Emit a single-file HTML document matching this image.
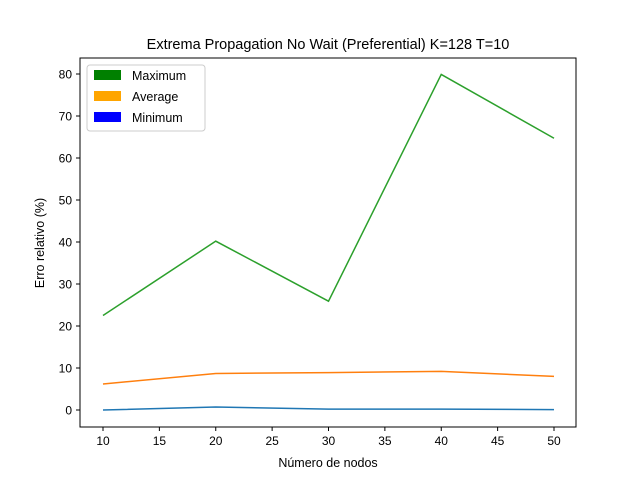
<!DOCTYPE html>
<html><head><meta charset="utf-8"><style>
body{margin:0;background:#fff;}
svg{display:block;font-family:"Liberation Sans","DejaVu Sans",sans-serif;}
</style></head><body>
<svg id="chart" width="640" height="480">
<rect width="640" height="480" fill="#fff"/>
<text x="328" y="49" font-size="14.5" text-anchor="middle">Extrema Propagation No Wait (Preferential) K=128 T=10</text>
<g id="axes"></g>
<g id="series"></g>
<rect x="80" y="58" width="496" height="369" fill="none" stroke="#000" stroke-width="1"/>
<text x="328" y="467" font-size="12.5" text-anchor="middle">Número de nodos</text>
<text x="0" y="0" font-size="12.5" text-anchor="middle" transform="translate(44,243) rotate(-90)">Erro relativo (%)</text>
<g>
<rect x="87" y="65" width="118" height="66" rx="3" fill="#fff" stroke="#ccc"/>
<g><rect x="94" y="70" width="27" height="10" fill="green"/><text x="132" y="80" font-size="12.5">Maximum</text></g>
<g><rect x="94" y="91" width="27" height="10" fill="orange"/><text x="132" y="101" font-size="12.5">Average</text></g>
<g><rect x="94" y="112" width="27" height="10" fill="blue"/><text x="132" y="122" font-size="12.5">Minimum</text></g>
</g>
</svg>
<script>
const categories=[10,20,30,40,50];
const maxValues=[22.5,40.2,25.9,79.9,64.7];
const avgValues=[6.2,8.7,8.9,9.2,8.0];
const minValues=[0.0,0.7,0.2,0.2,0.1];
const xTicks=[10,15,20,25,30,35,40,45,50];
const yTicks=[0,10,20,30,40,50,60,70,80];
const NS="http://www.w3.org/2000/svg";
function xs(v){return 103+(v-10)*(554-103)/40;}
function ys(v){return 410-v*(410-74)/80;}
const axes=document.getElementById('axes');
function mk(tag,attrs,parent){const e=document.createElementNS(NS,tag);for(const k in attrs)e.setAttribute(k,attrs[k]);parent.appendChild(e);return e;}
xTicks.forEach(t=>{
  const g=mk('g',{},axes);
  
  
  mk('line',{x1:xs(t),x2:xs(t),y1:427,y2:431,stroke:'#000'},g);
  const tx=mk('text',{x:xs(t),y:445,'font-size':12,'text-anchor':'middle'},g);tx.textContent=t;
});
yTicks.forEach(t=>{
  const g=mk('g',{},axes);
  
  
  mk('line',{x1:76,x2:80,y1:ys(t),y2:ys(t),stroke:'#000'},g);
  const tx=mk('text',{x:72,y:ys(t)+4.5,'font-size':12,'text-anchor':'end'},g);tx.textContent=t;
});
const ser=document.getElementById('series');
[[maxValues,'#2ca02c','maximum'],[avgValues,'#ff7f0e','average'],[minValues,'#1f77b4','minimum']].forEach(([vals,c,n])=>{
  const p=mk('polyline',{points:vals.map((v,i)=>xs(categories[i])+','+ys(v)).join(' '),fill:'none',stroke:c,'stroke-width':1.5},ser);
  
  
});
</script>
</body></html>
